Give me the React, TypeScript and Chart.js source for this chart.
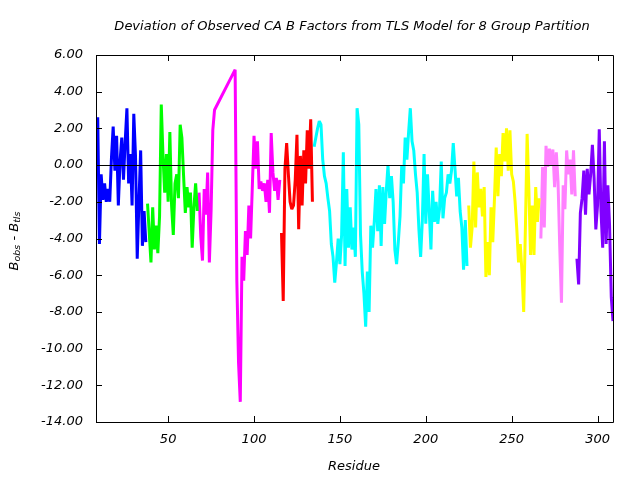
import { useEffect, useRef } from "react";
import { Chart, registerables } from "chart.js";

Chart.register(...registerables);

const range = (a: number, b: number) => {
  const out: number[] = [];
  for (let i = a; i <= b; i++) out.push(i);
  return out;
};

// Residue numbers for each TLS group
const blueResidues = range(8, 37);
const greenResidues = range(38, 67);
const magentaResidues = [...range(68, 77), ...range(89, 115)];
const redResidues = range(116, 134);
const cyanResidues = range(135, 224);
const yellowResidues = range(225, 266);
const pinkResidues = range(267, 287);
const purpleResidues = range(288, 309);

// B_obs - B_tls values
const blueValues = [
  0.9, 2.6, -4.3, -0.5, -1.9, -1.0, -2.0, -1.3, -2.0, 0.4,
  2.1, -0.3, 1.6, -2.2, 0.2, 1.5, -0.8, 1.3, 3.1, -1.0,
  0.6, -2.2, 2.8, 0.5, -5.1, -2.0, 0.8, -4.4, -2.5, -4.2,
];
const greenValues = [
  -2.1, -3.7, -5.3, -2.3, -4.6, -3.3, -4.8, -2.8, 3.3, 0.5,
  -1.5, 0.6, -2.0, 1.8, -2.2, -3.8, -1.0, -0.5, -1.8, 2.2,
  1.5, -0.6, -2.6, -1.2, -2.3, -1.5, -4.5, -2.3, -1.0, -2.5,
];
const magentaValues = [
  -1.5, -3.9, -5.2, -1.3, -2.7, -0.4, -5.3, -2.5, 1.9, 3.0,
  5.2, -6.3, -10.8, -12.9, -5.0, -6.3, -3.6, -4.9, -2.2, -4.0,
  -1.2, 1.6, -0.2, 1.3, -1.3, -0.9, -1.4, -1.0, -2.0, -0.8,
  -2.6, 1.75, -0.4, -1.4, -0.7, -1.9, -0.8,
];
const redValues = [
  -3.7, -7.4, -0.2, 1.2, -0.5, -2.0, -2.4, -2.2, -0.8, 1.65,
  -3.5, 0.5, -2.2, 0.8, -1.0, 1.9, -0.2, 2.5, -2.0,
];
const cyanValues = [
  1.0, 1.5, 2.0, 2.4, 2.2, 0.3, -0.6, -1.0, -1.8, -2.5,
  -4.3, -5.0, -6.4, -5.3, -4.0, -5.4, -3.8, 0.7, -5.5, -1.3,
  -4.5, -2.3, -4.6, -3.4, -5.0, 3.1, 2.2, -3.8, -5.8, -7.0,
  -8.8, -5.8, -8.0, -3.3, -4.5, -3.1, -1.3, -3.6, -1.1, -4.4,
  -1.2, -3.2, -1.4, 0.0, -1.8, -0.6, -2.0, -4.6, -5.4, -4.2,
  -2.8, 0.0, -1.0, 1.5, 0.3, 1.8, 3.1, 1.3, 0.8, -0.5,
  -1.5, -3.5, -5.0, -3.0, 0.6, -3.2, -0.5, -2.5, -4.6, -1.4,
  -3.1, -2.0, -3.2, -2.4, 0.2, -2.9, -1.8, -1.5, -0.5, -1.0,
  -0.3, 1.2, -0.2, -1.7, -0.7, -2.5, -3.4, -5.7, -3.0, -5.5,
];
const yellowValues = [
  -2.2, -4.5, -3.4, 0.2, -3.4, -0.4, -2.3, -1.3, -2.8, -1.2,
  -6.1, -4.2, -6.0, -2.3, -4.2, -1.8, 0.95, -1.7, 0.6, -0.6,
  1.75, 0.2, 2.0, -0.3, 1.9, -0.5, -0.9, -2.0, -3.5, -5.3,
  -4.3, -5.8, -8.0, -3.4, 1.7, -1.3, -4.9, -2.2, -4.9, -1.2,
  -3.1, -1.8,
];
const pinkValues = [
  -4.0, -0.1, -3.4, 1.05, -0.1, 0.9, 0.0, 0.85, -1.2, 0.7,
  -0.9, -4.5, -7.5, -1.1, -2.4, 0.8, -0.5, 0.3, -1.6, 0.8,
  -1.7,
];
const purpleValues = [
  -5.1, -6.5, -2.6, -1.8, -0.3, -2.7, -0.2, -1.6, -0.5, 1.1,
  -0.7, -3.5, -2.2, 1.95, -2.5, -4.5, 1.3, -4.3, -1.1, -3.3,
  -7.2, -8.5,
];

const groups = [
  { residues: blueResidues, values: blueValues, color: "#0000ff" },
  { residues: greenResidues, values: greenValues, color: "#00ff00" },
  { residues: magentaResidues, values: magentaValues, color: "#ff00ff" },
  { residues: redResidues, values: redValues, color: "#ff0000" },
  { residues: cyanResidues, values: cyanValues, color: "#00ffff" },
  { residues: yellowResidues, values: yellowValues, color: "#ffff00" },
  { residues: pinkResidues, values: pinkValues, color: "#ff80ff" },
  { residues: purpleResidues, values: purpleValues, color: "#8000ff" },
];

const xTicks = [50, 100, 150, 200, 250, 300];
const yTicks = [6, 4, 2, 0, -2, -4, -6, -8, -10, -12, -14];
const titleText =
  "Deviation of Observed CA B Factors from TLS Model for 8 Group Partition";
const xTitle = "Residue";

const FONT = "'DejaVu Sans', sans-serif";

const framePlugin = {
  id: "gnuplotFrame",
  afterDatasetsDraw(chart: any) {
    const { ctx, chartArea, scales } = chart;
    const { left, right, top, bottom } = chartArea;
    const xs = scales.x;
    const ys = scales.y;
    ctx.save();
    // zero line
    ctx.strokeStyle = "#000";
    ctx.lineWidth = 1;
    const y0 = Math.round(ys.getPixelForValue(0)) + 0.5;
    ctx.beginPath();
    ctx.moveTo(left, y0);
    ctx.lineTo(right, y0);
    ctx.stroke();
    // border
    ctx.beginPath();
    ctx.rect(Math.round(left) + 0.5, Math.round(top) + 0.5, Math.round(right - left), Math.round(bottom - top));
    ctx.stroke();
    // ticks
    const tl = 6;
    ctx.beginPath();
    for (const t of yTicks) {
      const y = Math.round(ys.getPixelForValue(t)) + 0.5;
      ctx.moveTo(left, y);
      ctx.lineTo(left + tl, y);
      ctx.moveTo(right, y);
      ctx.lineTo(right - tl, y);
    }
    for (const t of xTicks) {
      const x = Math.round(xs.getPixelForValue(t)) + 0.5;
      ctx.moveTo(x, bottom);
      ctx.lineTo(x, bottom - tl);
      ctx.moveTo(x, top);
      ctx.lineTo(x, top + tl);
    }
    ctx.stroke();

    // tick labels
    ctx.fillStyle = "#000";
    ctx.font = `italic 13px ${FONT}`;
    ctx.textAlign = "right";
    ctx.textBaseline = "middle";
    for (const t of yTicks) {
      const y = ys.getPixelForValue(t);
      ctx.fillText(t.toFixed(2), 83, y);
    }
    ctx.textAlign = "center";
    for (const t of xTicks) {
      const x = xs.getPixelForValue(t);
      ctx.fillText(String(t), x, 440);
    }
    // x title
    ctx.fillText(xTitle, 354, 467);
    // chart title
    ctx.font = `italic 13px ${FONT}`;
    ctx.fillText(titleText, 352, 27);

    // y title: B_obs - B_tls rotated
    ctx.translate(15, 241);
    ctx.rotate(-Math.PI / 2);
    const big = `italic 13px ${FONT}`;
    const small = `italic 9.5px ${FONT}`;
    const parts = [
      { t: "B", f: big, dy: 0 },
      { t: "obs", f: small, dy: 3 },
      { t: " - ", f: big, dy: 0 },
      { t: "B", f: big, dy: 0 },
      { t: "tls", f: small, dy: 3 },
    ];
    let total = 0;
    for (const p of parts) {
      ctx.font = p.f;
      total += ctx.measureText(p.t).width;
    }
    let cx = -total / 2;
    ctx.textAlign = "left";
    for (const p of parts) {
      ctx.font = p.f;
      ctx.fillText(p.t, cx, p.dy);
      cx += ctx.measureText(p.t).width;
    }
    ctx.restore();
  },
};

export default function App() {
  const canvasRef = useRef<HTMLCanvasElement | null>(null);
  useEffect(() => {
    if (!canvasRef.current) return;
    const chart = new Chart(canvasRef.current, {
      type: "line",
      data: {
        datasets: groups.map((g) => ({
          data: g.residues.map((r, i) => ({ x: r, y: g.values[i] })),
          borderColor: g.color,
          backgroundColor: g.color,
          borderWidth: 3,
          pointRadius: 0,
          tension: 0,
          fill: false,
          borderJoinStyle: "bevel" as const,
        })),
      },
      options: {
        animation: false,
        responsive: false,
        maintainAspectRatio: false,
        events: [],
        layout: { padding: { left: 96, right: 27, top: 55, bottom: 58 } },
        plugins: {
          legend: { display: false },
          title: { display: false },
          tooltip: { enabled: false },
        },
        scales: {
          x: { type: "linear", min: 8, max: 309, display: false },
          y: { type: "linear", min: -14, max: 6, display: false },
        },
      },
      plugins: [framePlugin],
    });
    return () => chart.destroy();
  }, []);
  return (
    <div style={{ position: "fixed", left: 0, top: 0, width: 640, height: 480, background: "#fff" }}>
      <canvas ref={canvasRef} width={640} height={480} />
    </div>
  );
}
